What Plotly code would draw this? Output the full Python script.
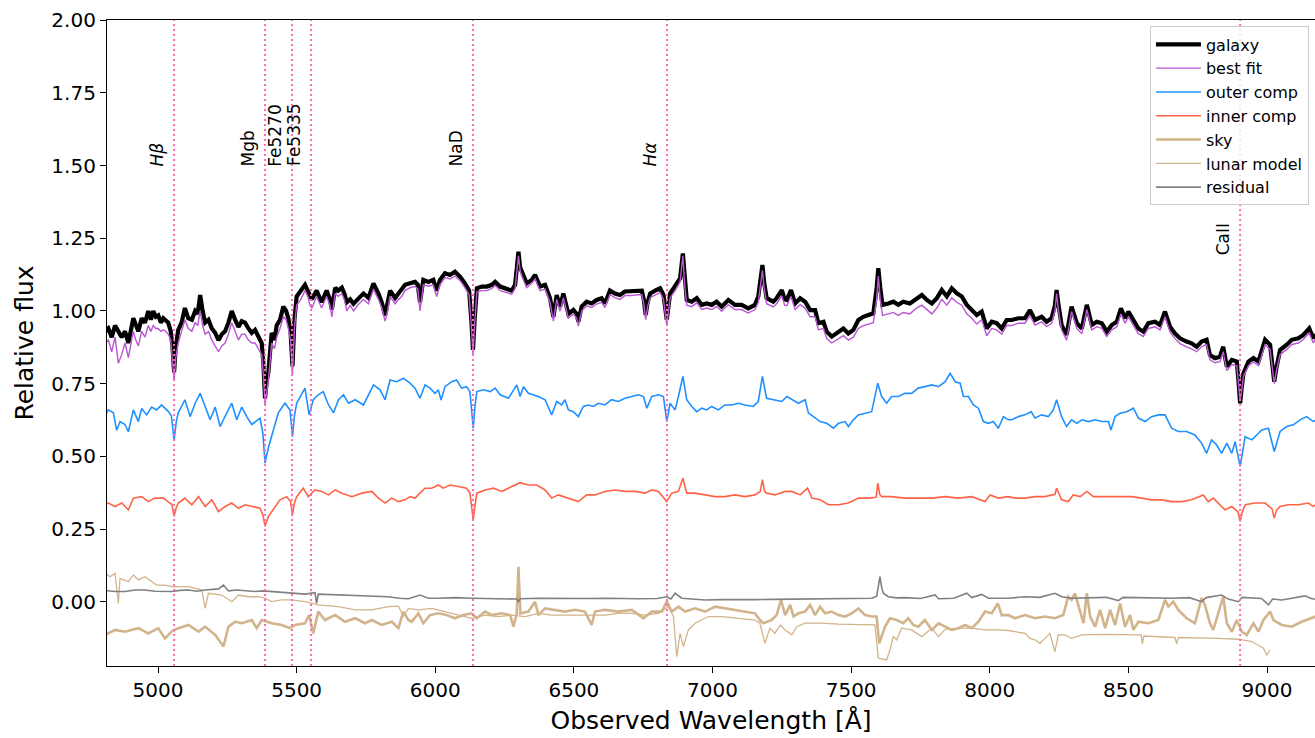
import plotly.graph_objects as go

# ---- spectra: (observed wavelength [Å], relative flux) ----
galaxy = [
    (4810, 0.93), (4821, 0.94), (4833, 0.91), (4845, 0.95), (4857, 0.93), (4869, 0.91), (4881, 0.93),
    (4893, 0.89), (4911, 0.975), (4920, 0.95), (4929, 0.93), (4941, 0.975), (4953, 0.96), (4965, 1.00),
    (4974, 0.97), (4983, 1.00), (4992, 0.98), (5001, 0.985), (5010, 0.96), (5019, 0.975), (5028, 0.965),
    (5037, 0.96), (5046, 0.93), (5052, 0.88), (5058, 0.79), (5064, 0.88), (5073, 0.935), (5085, 0.96),
    (5097, 1.01), (5109, 0.975), (5122, 0.97), (5134, 1.00), (5143, 0.99), (5152, 1.055), (5161, 1.00),
    (5170, 0.96), (5182, 0.97), (5194, 0.94), (5206, 0.925), (5218, 0.90), (5230, 0.92), (5242, 0.93),
    (5254, 0.96), (5266, 1.00), (5278, 0.97), (5290, 0.945), (5302, 0.965), (5314, 0.96), (5326, 0.94),
    (5338, 0.925), (5350, 0.935), (5362, 0.91), (5374, 0.89), (5380, 0.82), (5386, 0.70), (5392, 0.76),
    (5398, 0.79), (5410, 0.925), (5420, 0.90), (5428, 0.95), (5440, 0.97), (5452, 1.015), (5462, 1.00),
    (5470, 0.975), (5478, 0.93), (5485, 0.81), (5492, 0.97), (5500, 1.05), (5515, 1.07), (5530, 1.09),
    (5540, 1.07), (5548, 1.05), (5555, 1.04), (5572, 1.07), (5590, 1.03), (5608, 1.07), (5620, 1.04),
    (5627, 1.005), (5639, 1.08), (5650, 1.07), (5663, 1.08), (5672, 1.06), (5681, 1.03), (5693, 1.04),
    (5705, 1.025), (5720, 1.04), (5741, 1.06), (5759, 1.045), (5777, 1.095), (5795, 1.06), (5807, 1.03),
    (5819, 0.985), (5828, 1.02), (5837, 1.07), (5855, 1.045), (5867, 1.06), (5879, 1.07), (5891, 1.09),
    (5909, 1.095), (5927, 1.10), (5937, 1.09), (5945, 1.03), (5951, 1.07), (5957, 1.107), (5975, 1.10),
    (5993, 1.107), (6005, 1.07), (6017, 1.107), (6035, 1.13), (6053, 1.124), (6071, 1.135), (6089, 1.118),
    (6107, 1.095), (6122, 1.07), (6130, 0.97), (6136, 0.866), (6142, 0.97), (6150, 1.078), (6168, 1.084),
    (6186, 1.084), (6204, 1.09), (6216, 1.10), (6234, 1.084), (6252, 1.078), (6276, 1.07), (6288, 1.09),
    (6294, 1.14), (6300, 1.204), (6306, 1.15), (6312, 1.135), (6330, 1.095), (6348, 1.107), (6360, 1.124),
    (6378, 1.084), (6396, 1.09), (6414, 1.044), (6426, 0.98), (6438, 1.055), (6450, 1.015), (6462, 1.06),
    (6480, 0.99), (6498, 1.004), (6510, 0.99), (6516, 0.963), (6528, 1.015), (6546, 1.032), (6564, 1.026),
    (6582, 1.038), (6600, 1.044), (6612, 1.026), (6630, 1.07), (6648, 1.06), (6666, 1.055), (6684, 1.067),
    (6709, 1.067), (6727, 1.07), (6745, 1.07), (6752, 1.04), (6759, 0.986), (6766, 1.03), (6775, 1.06),
    (6793, 1.07), (6811, 1.078), (6823, 1.055), (6835, 0.97), (6847, 1.06), (6865, 1.084), (6883, 1.112),
    (6893, 1.198), (6900, 1.10), (6907, 1.038), (6925, 1.032), (6943, 1.044), (6961, 1.021), (6979, 1.026),
    (6997, 1.021), (7015, 1.032), (7033, 1.015), (7057, 1.038), (7081, 1.021), (7105, 1.021), (7129, 1.009),
    (7153, 1.021), (7165, 1.05), (7174, 1.13), (7180, 1.158), (7186, 1.10), (7195, 1.044), (7219, 1.032),
    (7231, 1.044), (7250, 1.072), (7260, 1.04), (7268, 1.038), (7283, 1.072), (7298, 1.026), (7316, 1.044),
    (7334, 1.032), (7352, 1.003), (7370, 1.003), (7382, 0.958), (7400, 0.963), (7412, 0.929), (7430, 0.912),
    (7454, 0.929), (7472, 0.94), (7490, 0.923), (7508, 0.935), (7526, 0.969), (7544, 0.98), (7562, 0.986),
    (7580, 0.992), (7592, 1.08), (7598, 1.147), (7605, 1.08), (7613, 1.021), (7634, 1.026), (7652, 1.032),
    (7670, 1.021), (7688, 1.032), (7712, 1.026), (7736, 1.044), (7755, 1.055), (7773, 1.038), (7791, 1.026),
    (7809, 1.044), (7827, 1.072), (7845, 1.05), (7863, 1.078), (7881, 1.061), (7899, 1.05), (7917, 1.021),
    (7935, 1.003), (7953, 0.986), (7971, 0.998), (7989, 0.94), (8007, 0.963), (8025, 0.958), (8043, 0.94),
    (8061, 0.969), (8079, 0.969), (8103, 0.975), (8127, 0.975), (8145, 1.003), (8163, 0.969), (8187, 0.98),
    (8205, 0.963), (8223, 0.975), (8235, 1.02), (8241, 1.072), (8248, 1.02), (8259, 0.952), (8277, 0.918),
    (8295, 1.015), (8314, 0.958), (8332, 0.94), (8350, 1.021), (8368, 0.952), (8386, 0.963), (8404, 0.958),
    (8422, 0.929), (8440, 0.952), (8458, 0.963), (8473, 1.009), (8488, 0.975), (8500, 0.998), (8518, 0.969),
    (8536, 0.94), (8554, 0.929), (8572, 0.958), (8596, 0.963), (8614, 0.952), (8632, 0.998), (8650, 0.946),
    (8668, 0.923), (8686, 0.906), (8710, 0.895), (8728, 0.889), (8746, 0.877), (8764, 0.895), (8782, 0.901),
    (8794, 0.849), (8812, 0.838), (8830, 0.843), (8842, 0.877), (8855, 0.809), (8873, 0.832), (8891, 0.826),
    (8897, 0.76), (8903, 0.683), (8909, 0.74), (8915, 0.786), (8933, 0.826), (8951, 0.838), (8969, 0.826),
    (8993, 0.901), (9011, 0.884), (9020, 0.80), (9026, 0.757), (9033, 0.80), (9047, 0.866), (9071, 0.884),
    (9089, 0.901), (9113, 0.906), (9131, 0.918), (9152, 0.94), (9167, 0.906), (9175, 0.92),
]

best_fit = [
    (4810, 0.89), (4821, 0.90), (4833, 0.86), (4845, 0.91), (4857, 0.82), (4869, 0.85), (4881, 0.89),
    (4893, 0.84), (4911, 0.93), (4920, 0.90), (4929, 0.88), (4941, 0.93), (4953, 0.91), (4965, 0.95),
    (4974, 0.93), (4983, 0.95), (4992, 0.94), (5001, 0.94), (5010, 0.93), (5019, 0.935), (5028, 0.93),
    (5037, 0.92), (5046, 0.90), (5052, 0.84), (5058, 0.76), (5064, 0.84), (5073, 0.89), (5085, 0.93),
    (5097, 0.97), (5109, 0.94), (5122, 0.93), (5134, 0.96), (5143, 0.95), (5152, 1.00), (5161, 0.95),
    (5170, 0.92), (5182, 0.93), (5194, 0.90), (5206, 0.88), (5218, 0.86), (5230, 0.88), (5242, 0.89),
    (5254, 0.92), (5266, 0.96), (5278, 0.93), (5290, 0.90), (5302, 0.92), (5314, 0.92), (5326, 0.90),
    (5338, 0.89), (5350, 0.89), (5362, 0.87), (5374, 0.85), (5380, 0.78), (5386, 0.68), (5392, 0.72),
    (5398, 0.76), (5410, 0.89), (5420, 0.87), (5428, 0.91), (5440, 0.94), (5452, 0.98), (5462, 0.97),
    (5470, 0.94), (5478, 0.90), (5485, 0.78), (5492, 0.94), (5500, 1.02), (5515, 1.04), (5530, 1.07),
    (5540, 1.05), (5548, 1.02), (5555, 1.01), (5572, 1.05), (5590, 1.01), (5608, 1.05), (5620, 1.02),
    (5627, 0.98), (5639, 1.06), (5650, 1.05), (5663, 1.06), (5672, 1.04), (5681, 1.00), (5693, 1.02),
    (5705, 1.00), (5720, 1.02), (5741, 1.04), (5759, 1.025), (5777, 1.075), (5795, 1.04), (5807, 1.01),
    (5819, 0.965), (5828, 1.00), (5837, 1.05), (5855, 1.025), (5867, 1.04), (5879, 1.05), (5891, 1.07),
    (5909, 1.08), (5927, 1.085), (5937, 1.075), (5945, 1.00), (5951, 1.05), (5957, 1.09), (5975, 1.085),
    (5993, 1.09), (6005, 1.05), (6017, 1.09), (6035, 1.115), (6053, 1.11), (6071, 1.12), (6089, 1.105),
    (6107, 1.08), (6122, 1.055), (6130, 0.95), (6136, 0.85), (6142, 0.95), (6150, 1.065), (6168, 1.07),
    (6186, 1.07), (6204, 1.078), (6216, 1.088), (6234, 1.07), (6252, 1.065), (6276, 1.058), (6288, 1.078),
    (6294, 1.13), (6300, 1.19), (6306, 1.14), (6312, 1.12), (6330, 1.08), (6348, 1.095), (6360, 1.11),
    (6378, 1.07), (6396, 1.075), (6414, 1.03), (6426, 0.965), (6438, 1.04), (6450, 1.00), (6462, 1.045),
    (6480, 0.975), (6498, 0.99), (6510, 0.975), (6516, 0.948), (6528, 1.00), (6546, 1.018), (6564, 1.012),
    (6582, 1.024), (6600, 1.03), (6612, 1.012), (6630, 1.056), (6648, 1.046), (6666, 1.04), (6684, 1.053),
    (6709, 1.053), (6727, 1.056), (6745, 1.056), (6752, 1.025), (6759, 0.97), (6766, 1.015), (6775, 1.046),
    (6793, 1.056), (6811, 1.064), (6823, 1.04), (6835, 0.95), (6847, 1.045), (6865, 1.07), (6883, 1.10),
    (6893, 1.19), (6900, 1.085), (6907, 1.02), (6925, 1.015), (6943, 1.028), (6961, 1.005), (6979, 1.01),
    (6997, 1.005), (7015, 1.016), (7033, 0.999), (7057, 1.022), (7081, 1.005), (7105, 1.005), (7129, 0.993),
    (7153, 1.005), (7165, 1.03), (7174, 1.11), (7180, 1.14), (7186, 1.08), (7195, 1.025), (7219, 1.014),
    (7231, 1.025), (7250, 1.052), (7260, 1.02), (7268, 1.018), (7283, 1.05), (7298, 1.005), (7316, 1.022),
    (7334, 1.01), (7352, 0.98), (7370, 0.98), (7382, 0.935), (7400, 0.94), (7412, 0.905), (7430, 0.89),
    (7454, 0.905), (7472, 0.915), (7490, 0.90), (7508, 0.91), (7526, 0.94), (7544, 0.95), (7562, 0.955),
    (7580, 0.96), (7592, 1.04), (7598, 1.12), (7605, 1.04), (7613, 0.985), (7634, 0.99), (7652, 0.995),
    (7670, 0.985), (7688, 0.995), (7712, 0.99), (7736, 1.01), (7755, 1.02), (7773, 1.005), (7791, 0.99),
    (7809, 1.01), (7827, 1.04), (7845, 1.02), (7863, 1.045), (7881, 1.03), (7899, 1.02), (7917, 0.99),
    (7935, 0.975), (7953, 0.955), (7971, 0.97), (7989, 0.915), (8007, 0.94), (8025, 0.935), (8043, 0.92),
    (8061, 0.95), (8079, 0.95), (8103, 0.958), (8127, 0.958), (8145, 0.985), (8163, 0.952), (8187, 0.963),
    (8205, 0.946), (8223, 0.958), (8235, 1.00), (8241, 1.06), (8248, 1.00), (8259, 0.935), (8277, 0.90),
    (8295, 0.998), (8314, 0.94), (8332, 0.922), (8350, 1.005), (8368, 0.935), (8386, 0.946), (8404, 0.94),
    (8422, 0.912), (8440, 0.935), (8458, 0.946), (8473, 0.99), (8488, 0.958), (8500, 0.98), (8518, 0.952),
    (8536, 0.922), (8554, 0.912), (8572, 0.94), (8596, 0.946), (8614, 0.935), (8632, 0.98), (8650, 0.928),
    (8668, 0.905), (8686, 0.888), (8710, 0.877), (8728, 0.87), (8746, 0.86), (8764, 0.878), (8782, 0.885),
    (8794, 0.832), (8812, 0.822), (8830, 0.826), (8842, 0.86), (8855, 0.795), (8873, 0.816), (8891, 0.812),
    (8897, 0.75), (8903, 0.69), (8909, 0.73), (8915, 0.775), (8933, 0.812), (8951, 0.825), (8969, 0.812),
    (8993, 0.885), (9011, 0.868), (9020, 0.79), (9026, 0.75), (9033, 0.79), (9047, 0.85), (9071, 0.868),
    (9089, 0.885), (9113, 0.89), (9131, 0.902), (9152, 0.925), (9167, 0.89), (9175, 0.905),
]

outer_comp = [
    (4810, 0.64), (4821, 0.66), (4839, 0.65), (4851, 0.59), (4863, 0.62), (4881, 0.61), (4893, 0.585),
    (4911, 0.66), (4929, 0.62), (4941, 0.665), (4959, 0.643), (4977, 0.67), (4995, 0.66), (5013, 0.677),
    (5037, 0.655), (5048, 0.64), (5058, 0.557), (5066, 0.62), (5073, 0.65), (5097, 0.695), (5116, 0.637),
    (5134, 0.683), (5152, 0.717), (5170, 0.67), (5188, 0.626), (5206, 0.67), (5224, 0.603), (5248, 0.65),
    (5266, 0.683), (5284, 0.626), (5302, 0.67), (5320, 0.637), (5338, 0.61), (5368, 0.632), (5378, 0.58),
    (5386, 0.477), (5398, 0.53), (5416, 0.59), (5434, 0.65), (5458, 0.683), (5476, 0.66), (5485, 0.568),
    (5492, 0.64), (5500, 0.683), (5518, 0.717), (5530, 0.735), (5545, 0.643), (5560, 0.695), (5578, 0.712),
    (5596, 0.723), (5615, 0.677), (5633, 0.65), (5651, 0.695), (5669, 0.712), (5687, 0.683), (5711, 0.695),
    (5741, 0.677), (5759, 0.712), (5777, 0.746), (5801, 0.729), (5819, 0.695), (5837, 0.763), (5861, 0.757),
    (5885, 0.769), (5909, 0.752), (5927, 0.735), (5945, 0.70), (5963, 0.746), (5981, 0.735), (5999, 0.717),
    (6011, 0.729), (6021, 0.694), (6035, 0.74), (6059, 0.757), (6077, 0.763), (6095, 0.735), (6113, 0.74),
    (6125, 0.723), (6131, 0.66), (6137, 0.597), (6143, 0.67), (6150, 0.723), (6174, 0.729), (6198, 0.723),
    (6216, 0.735), (6234, 0.712), (6264, 0.70), (6282, 0.729), (6294, 0.746), (6306, 0.706), (6318, 0.74),
    (6336, 0.717), (6354, 0.712), (6372, 0.706), (6396, 0.695), (6420, 0.643), (6438, 0.689), (6456, 0.677),
    (6468, 0.695), (6480, 0.66), (6498, 0.654), (6516, 0.637), (6534, 0.672), (6552, 0.677), (6570, 0.672),
    (6588, 0.683), (6612, 0.677), (6636, 0.695), (6660, 0.689), (6684, 0.70), (6709, 0.706), (6733, 0.712),
    (6751, 0.706), (6763, 0.666), (6781, 0.706), (6805, 0.712), (6823, 0.706), (6835, 0.62), (6847, 0.683),
    (6865, 0.66), (6877, 0.706), (6893, 0.775), (6907, 0.695), (6925, 0.672), (6943, 0.654), (6961, 0.666),
    (6979, 0.66), (6997, 0.672), (7021, 0.66), (7045, 0.677), (7069, 0.677), (7093, 0.683), (7117, 0.677),
    (7147, 0.672), (7165, 0.689), (7180, 0.775), (7195, 0.70), (7219, 0.695), (7250, 0.689), (7268, 0.706),
    (7286, 0.695), (7310, 0.683), (7334, 0.695), (7346, 0.649), (7364, 0.637), (7388, 0.62), (7412, 0.614),
    (7436, 0.597), (7454, 0.614), (7478, 0.62), (7490, 0.603), (7508, 0.626), (7526, 0.643), (7550, 0.649),
    (7574, 0.654), (7596, 0.752), (7610, 0.706), (7628, 0.683), (7646, 0.706), (7670, 0.706), (7694, 0.717),
    (7718, 0.717), (7742, 0.735), (7766, 0.74), (7791, 0.746), (7815, 0.74), (7839, 0.757), (7857, 0.786),
    (7875, 0.757), (7893, 0.752), (7905, 0.706), (7923, 0.706), (7941, 0.677), (7959, 0.666), (7977, 0.62),
    (7995, 0.614), (8013, 0.62), (8031, 0.597), (8049, 0.637), (8067, 0.626), (8079, 0.626), (8103, 0.637),
    (8127, 0.643), (8149, 0.654), (8163, 0.632), (8187, 0.643), (8211, 0.637), (8229, 0.66), (8241, 0.695),
    (8259, 0.637), (8277, 0.603), (8295, 0.626), (8314, 0.614), (8332, 0.626), (8356, 0.62), (8380, 0.626),
    (8404, 0.62), (8428, 0.62), (8437, 0.591), (8452, 0.637), (8470, 0.649), (8494, 0.654), (8518, 0.666),
    (8536, 0.632), (8560, 0.62), (8584, 0.637), (8608, 0.643), (8632, 0.643), (8656, 0.597), (8680, 0.586),
    (8710, 0.586), (8740, 0.574), (8764, 0.546), (8782, 0.511), (8800, 0.557), (8818, 0.54), (8836, 0.511),
    (8855, 0.546), (8873, 0.511), (8885, 0.551), (8903, 0.466), (8921, 0.568), (8945, 0.557), (8963, 0.574),
    (8981, 0.591), (9005, 0.597), (9026, 0.517), (9047, 0.586), (9071, 0.603), (9095, 0.609), (9119, 0.626),
    (9143, 0.637), (9167, 0.62), (9175, 0.625),
]

inner_comp = [
    (4810, 0.335), (4821, 0.34), (4845, 0.328), (4869, 0.34), (4893, 0.317), (4911, 0.357), (4941, 0.362),
    (4965, 0.345), (4989, 0.357), (5019, 0.357), (5043, 0.34), (5050, 0.335), (5058, 0.294), (5066, 0.325),
    (5073, 0.34), (5097, 0.357), (5122, 0.334), (5146, 0.362), (5170, 0.328), (5194, 0.351), (5218, 0.311),
    (5242, 0.328), (5266, 0.34), (5290, 0.322), (5314, 0.334), (5338, 0.328), (5368, 0.322), (5378, 0.30),
    (5386, 0.26), (5398, 0.294), (5416, 0.317), (5440, 0.351), (5464, 0.362), (5478, 0.345), (5485, 0.30),
    (5492, 0.34), (5500, 0.362), (5524, 0.391), (5542, 0.362), (5566, 0.385), (5590, 0.38), (5615, 0.368),
    (5639, 0.385), (5663, 0.374), (5699, 0.362), (5735, 0.374), (5771, 0.38), (5795, 0.357), (5819, 0.34),
    (5843, 0.357), (5867, 0.345), (5891, 0.351), (5909, 0.362), (5927, 0.357), (5945, 0.374), (5963, 0.391),
    (5987, 0.391), (6011, 0.402), (6029, 0.391), (6053, 0.402), (6083, 0.397), (6113, 0.391), (6125, 0.374),
    (6131, 0.33), (6137, 0.282), (6143, 0.33), (6150, 0.374), (6180, 0.385), (6210, 0.391), (6240, 0.38),
    (6276, 0.397), (6306, 0.41), (6336, 0.402), (6366, 0.402), (6396, 0.385), (6420, 0.357), (6444, 0.368),
    (6480, 0.357), (6516, 0.345), (6546, 0.368), (6576, 0.368), (6612, 0.38), (6648, 0.385), (6684, 0.38),
    (6721, 0.38), (6757, 0.374), (6781, 0.385), (6805, 0.38), (6835, 0.345), (6853, 0.374), (6877, 0.38),
    (6893, 0.425), (6907, 0.374), (6937, 0.374), (6973, 0.368), (7009, 0.362), (7045, 0.362), (7081, 0.368),
    (7117, 0.362), (7153, 0.368), (7172, 0.38), (7180, 0.42), (7188, 0.38), (7195, 0.374), (7225, 0.368),
    (7262, 0.38), (7286, 0.38), (7316, 0.368), (7343, 0.391), (7358, 0.357), (7388, 0.351), (7418, 0.334),
    (7454, 0.334), (7490, 0.34), (7526, 0.357), (7562, 0.357), (7590, 0.36), (7596, 0.408), (7603, 0.37),
    (7610, 0.362), (7646, 0.362), (7694, 0.357), (7742, 0.357), (7791, 0.357), (7839, 0.362), (7887, 0.357),
    (7935, 0.362), (7983, 0.345), (8001, 0.368), (8031, 0.357), (8067, 0.362), (8091, 0.357), (8127, 0.357),
    (8163, 0.362), (8199, 0.362), (8235, 0.37), (8241, 0.391), (8259, 0.351), (8283, 0.345), (8301, 0.368),
    (8326, 0.362), (8350, 0.38), (8374, 0.362), (8404, 0.362), (8440, 0.362), (8476, 0.362), (8512, 0.362),
    (8548, 0.357), (8584, 0.351), (8620, 0.351), (8656, 0.345), (8692, 0.345), (8728, 0.351), (8770, 0.368),
    (8788, 0.345), (8806, 0.357), (8824, 0.34), (8848, 0.317), (8873, 0.328), (8895, 0.31), (8903, 0.277),
    (8911, 0.31), (8921, 0.334), (8957, 0.34), (8993, 0.34), (9018, 0.32), (9026, 0.288), (9034, 0.315),
    (9047, 0.328), (9077, 0.334), (9113, 0.334), (9149, 0.34), (9167, 0.328), (9175, 0.335),
]

sky = [
    (4810, -0.113), (4845, -0.096), (4881, -0.102), (4929, -0.090), (4965, -0.108), (5001, -0.090),
    (5025, -0.125), (5049, -0.102), (5073, -0.090), (5110, -0.079), (5146, -0.102), (5170, -0.085),
    (5206, -0.113), (5236, -0.153), (5254, -0.085), (5278, -0.068), (5302, -0.073), (5338, -0.062),
    (5356, -0.090), (5374, -0.062), (5410, -0.073), (5446, -0.079), (5476, -0.090), (5494, -0.079),
    (5530, -0.073), (5545, -0.045), (5560, -0.108), (5578, -0.033), (5602, -0.062), (5639, -0.045),
    (5675, -0.068), (5711, -0.056), (5747, -0.073), (5771, -0.062), (5807, -0.079), (5843, -0.068),
    (5867, -0.090), (5885, -0.033), (5903, -0.062), (5915, -0.068), (5939, -0.039), (5957, -0.073),
    (5981, -0.045), (6011, -0.039), (6041, -0.045), (6071, -0.056), (6101, -0.045), (6131, -0.039),
    (6150, -0.056), (6180, -0.033), (6204, -0.045), (6240, -0.039), (6270, -0.045), (6282, -0.085),
    (6294, -0.039), (6300, 0.121), (6307, -0.039), (6336, -0.033), (6360, 0.001), (6372, -0.045),
    (6396, -0.022), (6432, -0.027), (6468, -0.033), (6504, -0.027), (6540, -0.033), (6564, -0.079),
    (6576, -0.033), (6612, -0.027), (6660, -0.033), (6709, -0.027), (6751, -0.056), (6781, -0.033),
    (6817, -0.033), (6835, 0.001), (6853, -0.033), (6877, -0.016), (6901, -0.033), (6937, -0.022),
    (6973, -0.033), (7009, -0.016), (7045, -0.022), (7081, -0.027), (7117, -0.033), (7153, -0.039),
    (7171, -0.062), (7183, -0.073), (7213, -0.062), (7231, -0.045), (7247, 0.007), (7262, -0.045),
    (7280, -0.010), (7292, -0.050), (7310, -0.039), (7334, -0.033), (7352, -0.010), (7370, -0.045),
    (7388, -0.016), (7406, -0.039), (7430, -0.033), (7454, -0.045), (7478, -0.050), (7502, -0.039),
    (7526, -0.022), (7550, -0.045), (7574, -0.050), (7592, -0.050), (7601, -0.142), (7622, -0.085),
    (7640, -0.056), (7664, -0.062), (7688, -0.073), (7706, -0.056), (7724, -0.079), (7742, -0.085),
    (7766, -0.062), (7791, -0.096), (7815, -0.073), (7839, -0.085), (7863, -0.096), (7887, -0.090),
    (7911, -0.079), (7935, -0.090), (7959, -0.068), (7983, -0.033), (8007, -0.039), (8029, -0.005),
    (8043, -0.045), (8067, -0.045), (8091, -0.056), (8127, -0.045), (8163, -0.056), (8199, -0.050),
    (8235, -0.056), (8265, -0.045), (8283, 0.018), (8295, 0.007), (8307, 0.030), (8326, -0.033),
    (8338, -0.073), (8350, 0.030), (8362, -0.050), (8380, -0.085), (8398, -0.027), (8416, -0.090),
    (8434, -0.027), (8452, -0.079), (8470, -0.005), (8488, -0.085), (8506, -0.045), (8518, -0.096),
    (8536, -0.068), (8572, -0.073), (8608, -0.062), (8632, 0.007), (8644, -0.016), (8662, 0.001),
    (8680, -0.027), (8710, -0.056), (8740, -0.073), (8764, 0.013), (8776, -0.010), (8794, -0.073),
    (8806, -0.096), (8824, -0.039), (8842, 0.018), (8855, -0.073), (8873, -0.102), (8891, -0.062),
    (8909, -0.102), (8927, -0.113), (8951, -0.073), (8969, -0.102), (8987, -0.062), (9011, -0.033),
    (9023, -0.062), (9053, -0.079), (9089, -0.085), (9125, -0.068), (9155, -0.056), (9175, -0.050),
]

lunar_model = [
    (4810, 0.098), (4827, 0.087), (4845, 0.098), (4857, -0.005), (4863, 0.081), (4893, 0.070),
    (4911, 0.093), (4929, 0.076), (4953, 0.087), (4977, 0.070), (4995, 0.058), (5025, 0.058),
    (5049, 0.053), (5110, 0.053), (5158, 0.041), (5170, -0.022), (5182, 0.030), (5230, 0.024),
    (5266, 0.001), (5290, 0.024), (5326, 0.018), (5362, 0.018), (5386, 0.013), (5410, 0.001),
    (5446, 0.007), (5482, 0.007), (5530, 0.001), (5578, -0.010), (5651, -0.016), (5711, -0.027),
    (5771, -0.027), (5831, -0.016), (5867, -0.014), (5885, -0.050), (5903, -0.022), (5939, -0.027),
    (5987, -0.022), (6035, -0.033), (6083, -0.045), (6131, -0.056), (6180, -0.045), (6228, -0.050),
    (6276, -0.045), (6324, -0.050), (6372, -0.039), (6420, -0.045), (6468, -0.045), (6516, -0.045),
    (6564, -0.045), (6612, -0.045), (6660, -0.039), (6709, -0.039), (6757, -0.045), (6805, -0.039),
    (6841, -0.016), (6859, -0.050), (6871, -0.188), (6883, -0.108), (6895, -0.153), (6913, -0.096),
    (6937, -0.073), (6961, -0.062), (6985, -0.050), (7033, -0.050), (7093, -0.056), (7153, -0.062),
    (7171, -0.073), (7189, -0.142), (7207, -0.090), (7225, -0.108), (7244, -0.079), (7262, -0.096),
    (7286, -0.113), (7304, -0.085), (7334, -0.073), (7394, -0.073), (7454, -0.076), (7514, -0.077),
    (7586, -0.079), (7598, -0.193), (7628, -0.199), (7640, -0.165), (7652, -0.119), (7664, -0.130),
    (7682, -0.090), (7718, -0.096), (7755, -0.119), (7791, -0.090), (7815, -0.119), (7839, -0.094),
    (7887, -0.090), (7935, -0.090), (7983, -0.096), (8031, -0.096), (8067, -0.098), (8127, -0.108),
    (8145, -0.125), (8163, -0.130), (8181, -0.142), (8199, -0.125), (8217, -0.108), (8235, -0.171),
    (8247, -0.113), (8271, -0.113), (8295, -0.125), (8332, -0.113), (8416, -0.111), (8546, -0.113),
    (8550, -0.144), (8556, -0.117), (8668, -0.122), (8674, -0.144), (8680, -0.122), (8824, -0.125),
    (8897, -0.128), (8945, -0.136), (8969, -0.148), (8987, -0.159), (8999, -0.182), (9011, -0.165),
]

residual = [
    (4810, 0.039), (4845, 0.036), (4881, 0.036), (4917, 0.041), (4953, 0.041), (4989, 0.037), (5049, 0.036),
    (5080, 0.040), (5110, 0.041), (5140, 0.037), (5170, 0.041), (5218, 0.045), (5236, 0.058), (5254, 0.038),
    (5284, 0.041), (5314, 0.039), (5350, 0.036), (5380, 0.038), (5410, 0.036), (5446, 0.033), (5482, 0.030),
    (5530, 0.027), (5566, 0.032), (5572, -0.005), (5578, 0.027), (5615, 0.026), (5651, 0.024), (5711, 0.022),
    (5771, 0.021), (5830, 0.018), (5870, 0.013), (5903, 0.011), (5945, 0.024), (5975, 0.013), (6011, 0.013),
    (6071, 0.015), (6131, 0.013), (6190, 0.012), (6252, 0.013), (6294, 0.010), (6300, 0.001), (6306, 0.011),
    (6372, 0.013), (6432, 0.012), (6492, 0.011), (6552, 0.012), (6612, 0.013), (6672, 0.011), (6733, 0.011),
    (6800, 0.012), (6835, 0.018), (6850, 0.010), (6865, 0.030), (6889, 0.013), (6930, 0.010), (6973, 0.007),
    (7033, 0.008), (7093, 0.007), (7153, 0.008), (7213, 0.009), (7273, 0.010), (7334, 0.011), (7394, 0.010),
    (7454, 0.011), (7514, 0.012), (7574, 0.013), (7592, 0.020), (7600, 0.060), (7604, 0.087), (7610, 0.050),
    (7616, 0.030), (7634, 0.018), (7664, 0.014), (7694, 0.015), (7750, 0.012), (7803, 0.024), (7815, 0.011),
    (7870, 0.013), (7917, 0.030), (7935, 0.015), (7971, 0.026), (7995, 0.013), (8031, 0.012), (8067, 0.013),
    (8127, 0.018), (8180, 0.016), (8235, 0.030), (8260, 0.018), (8295, 0.013), (8368, 0.015), (8420, 0.016),
    (8464, 0.005), (8480, 0.016), (8536, 0.015), (8600, 0.014), (8656, 0.013), (8720, 0.015), (8764, 0.001),
    (8780, 0.015), (8800, 0.018), (8836, 0.024), (8860, 0.010), (8897, 0.001), (8910, 0.016), (8945, 0.013),
    (8980, 0.012), (9005, -0.010), (9020, 0.010), (9053, 0.007), (9100, 0.014), (9137, 0.021), (9160, 0.012),
    (9175, 0.009),
]

# ---- spectral features (observed wavelength) ----
line_waves = [5058, 5386, 5483, 5552, 6136, 6836, 8903]
line_labels = ["<i>Hβ</i>", "Mgb", "Fe5270", "Fe5335", "NaD", "<i>Hα</i>", "CaII"]

FONT = "DejaVu Sans"

series = [
    ("galaxy", galaxy, "black", 4.2),
    ("best fit", best_fit, "mediumorchid", 1.4),
    ("outer comp", outer_comp, "dodgerblue", 1.6),
    ("inner comp", inner_comp, "tomato", 1.6),
    ("sky", sky, "tan", 2.6),
    ("lunar model", lunar_model, "tan", 1.3),
    ("residual", residual, "gray", 1.6),
]

fig = go.Figure()
for name, pts, color, width in series:
    xs = [p[0] for p in pts]
    ys = [p[1] for p in pts]
    fig.add_trace(go.Scatter(x=xs, y=ys, mode="lines", name=name,
                             line=dict(color=color, width=width)))

# dotted markers for the spectral features
for wave in line_waves:
    fig.add_shape(type="line", xref="x", yref="paper", x0=wave, x1=wave, y0=0, y1=1,
                  line=dict(color="#ff69b4", width=2, dash="2px,3px"), layer="above")

for wave, label in zip(line_waves, line_labels):
    fig.add_annotation(x=wave, y=1.185 if label == "CaII" else 1.49, xref="x", yref="y",
                       text=label, textangle=-90, showarrow=False,
                       xanchor="center", yanchor="bottom", xshift=-17,
                       font=dict(family=FONT, size=17, color="black"))

fig.update_layout(
    width=1315, height=738,
    margin=dict(l=107, r=0, t=20, b=72),
    paper_bgcolor="white", plot_bgcolor="white",
    font=dict(family=FONT, color="black"),
    showlegend=True,
    legend=dict(x=0.995, y=0.99, xanchor="right", yanchor="top",
                bgcolor="rgba(255,255,255,0.8)", bordercolor="#cccccc", borderwidth=1,
                font=dict(family=FONT, size=16, color="black"), tracegroupgap=0,
                itemwidth=45),
)
fig.update_xaxes(range=[4816, 9173], tickvals=[5000, 5500, 6000, 6500, 7000, 7500, 8000, 8500, 9000],
                 ticks="outside", ticklen=6, tickwidth=1.2, tickcolor="black",
                 showline=True, linecolor="black", linewidth=1.2, mirror=True,
                 showgrid=False, zeroline=False,
                 tickfont=dict(family=FONT, size=20),
                 title=dict(text="Observed Wavelength [Å]", font=dict(family=FONT, size=25), standoff=10))
fig.update_yaxes(range=[-0.22, 2.0], tickvals=[0, 0.25, 0.5, 0.75, 1.0, 1.25, 1.5, 1.75, 2.0],
                 tickformat=".2f",
                 ticks="outside", ticklen=6, tickwidth=1.2, tickcolor="black",
                 showline=True, linecolor="black", linewidth=1.2, mirror=True,
                 showgrid=False, zeroline=False,
                 tickfont=dict(family=FONT, size=20),
                 title=dict(text="Relative flux", font=dict(family=FONT, size=25), standoff=10))

fig.write_html("out.html")
